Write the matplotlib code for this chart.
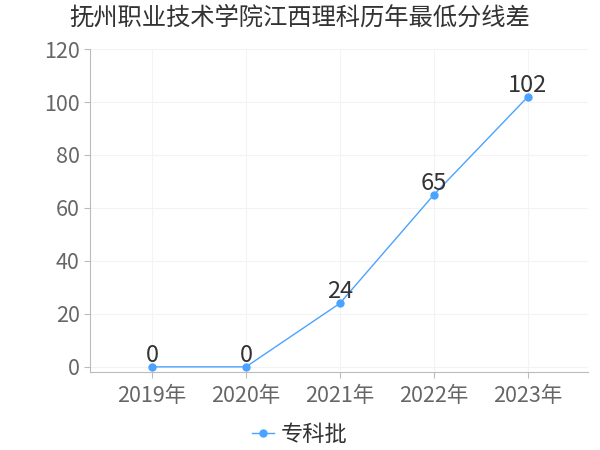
import matplotlib.pyplot as plt

plt.rcParams['font.family'] = ['Noto Sans CJK SC', 'DejaVu Sans']

years = ["2019年", "2020年", "2021年", "2022年", "2023年"]
scores = [0, 0, 24, 65, 102]
series_name = "专科批"

fig = plt.figure(figsize=(6, 4.5), dpi=100)
ax = fig.add_axes([0.15, 0.173, 0.83, 0.718])

x = list(range(len(years)))
ax.plot(x, scores, color="#4aa3ff", linewidth=1, marker="o", markersize=5,
        label=series_name)
for xi, v in zip(x, scores):
    ax.annotate(str(v), (xi, v), xytext=(0, 0), textcoords="offset points",
                ha="center", va="bottom", fontsize=17, color="#333333")

ax.set_xlim(-0.66, 4.64)
ax.set_ylim(-2, 120)
ax.set_yticks([0, 20, 40, 60, 80, 100, 120])
ax.set_xticks(x)
ax.set_xticklabels(years)
ax.tick_params(axis="both", labelsize=15.5, colors="#666666", length=4, color="#bbbbbb")
ax.tick_params(axis="x", pad=5)
ax.grid(True, color="#f3f3f3", linewidth=0.8)
ax.set_axisbelow(True)
for side in ["top", "right"]:
    ax.spines[side].set_visible(False)
ax.spines["left"].set_color("#bbbbbb")
ax.spines["bottom"].set_color("#bbbbbb")

fig.suptitle("抚州职业技术学院江西理科历年最低分线差", x=0.5, y=0.99,
             fontsize=17.5, color="#333333")
fig.legend(loc="lower center", bbox_to_anchor=(0.5, -0.035), frameon=False,
           fontsize=16, handlelength=1.0, handletextpad=0.3,
           labelcolor="#333333")

fig.savefig("out.png", dpi=100)
